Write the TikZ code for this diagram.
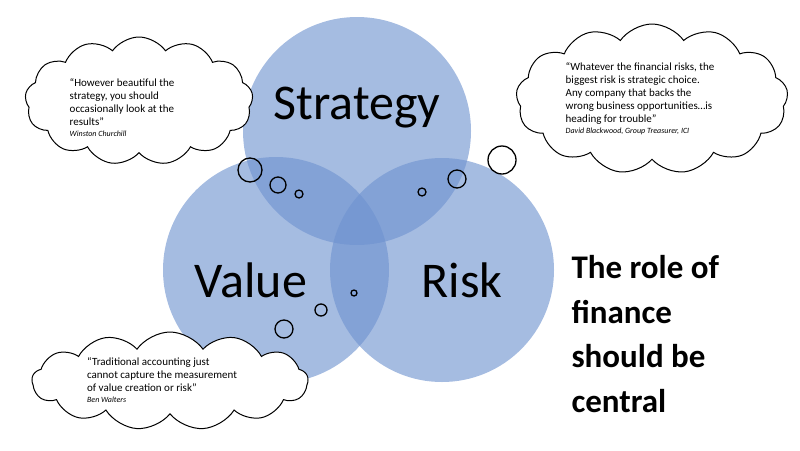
\documentclass[tikz,border=0pt]{standalone}
\usepackage{fontspec}
\setmainfont{Carlito}
\usetikzlibrary{shapes.symbols}
\definecolor{vb}{HTML}{6F93D0}
\begin{document}
\begin{tikzpicture}[x=1pt,y=-1pt,
 venn/.style={fill=vb,fill opacity=0.62,draw=none},
 cloudbox/.style={cloud,cloud puffs=13,cloud puff arc=110,aspect=2,draw=black,line width=1pt,fill=white,inner sep=0pt},
 bub/.style={draw=black,line width=1.3pt},
 ctext/.style={align=left,font=\fontsize{11}{13}\selectfont},
 big/.style={font=\fontsize{50}{54}\selectfont}]
\useasboundingbox (0,0) rectangle (800,450);
\fill[white] (0,0) rectangle (800,450);
\fill[venn] (357,131) circle (114);
\fill[venn] (276,270) circle (113);
\fill[venn] (442,270) circle (112);
\node[big] (s) at (357,108) {Strategy};
\node[big] (v) at (251,280) {Value};
\node[big] (r) at (462,280) {Risk};
\node[cloudbox,minimum width=228,minimum height=128] (c1) at (139,101) {};
\node[ctext] (t1) at (122,108) {“However beautiful the\\strategy, you should\\occasionally look at the\\results”\\[-2pt] {\fontsize{8}{9}\selectfont\itshape Winston Churchill}};
\node[cloudbox,minimum width=272,minimum height=150] (c2) at (652,99) {};
\node[ctext] (t2) at (640,99) {“Whatever the financial risks, the\\biggest risk is strategic choice.\\Any company that backs the\\wrong business opportunities…is\\heading for trouble”\\[-2pt] {\fontsize{8}{9}\selectfont\itshape David Blackwood, Group Treasurer, ICI}};
\node[cloudbox,minimum width=276,minimum height=98,aspect=3] (c3) at (170,381) {};
\node[ctext] (t3) at (162,380) {“Traditional accounting just\\cannot capture the measurement\\of value creation or risk”\\[-2pt] {\fontsize{8}{9}\selectfont\itshape Ben Walters}};
\draw[bub] (250,170) circle (12);
\draw[bub] (278,185) circle (8);
\draw[bub] (299,194) circle (4);
\draw[bub] (284,329) circle (9);
\draw[bub] (321,310) circle (6);
\draw[bub] (354,293) circle (3);
\draw[bub] (502,160) circle (14);
\draw[bub] (457,179) circle (9);
\draw[bub] (422,192) circle (4);
\node[anchor=north west,align=left,font=\bfseries\fontsize{33}{44.5}\selectfont] (role) at (568,252) {The role of\\finance\\should be\\central};
\end{tikzpicture}
\end{document}
